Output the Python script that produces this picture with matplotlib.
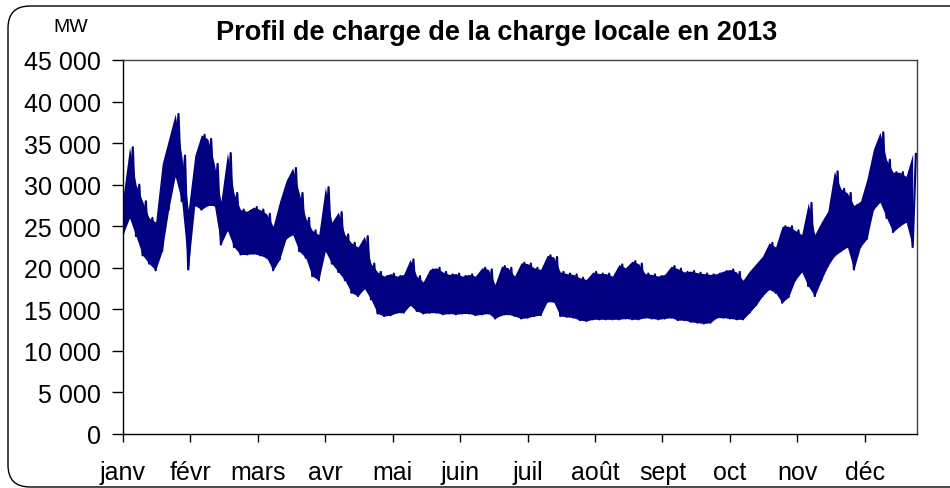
"""
Profil de charge 2013 - recreated load curve (envelope read every 3 days)
"""

import numpy as np
import matplotlib
matplotlib.use("Agg")
import matplotlib.pyplot as plt
from matplotlib.patches import FancyBboxPatch
from matplotlib.transforms import IdentityTransform
from matplotlib.ticker import FuncFormatter

plt.rcParams["font.family"] = ["Liberation Sans", "DejaVu Sans"]

# day of year for each reading (every 3 days)
days = list(range(0, 366, 3))

# daily minimum / maximum of the band, in MW
lows = [
    24000, 26000, 23800, 21500, 20500, 19700, 22000, 27000, 31000, 28000,
    19800, 27500, 27000, 27500, 27500, 22800, 24500, 22500, 21600, 21600,
    21700, 21500, 21200, 19700, 21000, 23500, 24000, 22000, 21200, 19000,
    18500, 22000, 20500, 19500, 18500, 17000, 16600, 17500, 16200, 14500,
    14200, 14300, 14600, 14600, 15500, 14800, 14500, 14600, 14600, 14400,
    14500, 14400, 14500, 14500, 14300, 14400, 14500, 13900, 14300, 14400,
    14200, 13900, 14000, 14200, 14300, 15900, 15900, 14200, 14100, 14000,
    13700, 13600, 13800, 13800, 13800, 13800, 13800, 13900, 13800, 13800,
    14000, 13900, 13800, 13900, 14000, 13700, 13700, 13500, 13400, 13300,
    13400, 14000, 14000, 13900, 13800, 13800, 14600, 15500, 16600, 17400,
    17000, 15800, 16500, 18500, 19500, 17800, 16600, 18500, 20200, 21400,
    22000, 22500, 19800, 22500, 23500, 27000, 27900, 26000, 24300, 25000,
    25500, 22500,
]
highs = [
    28500, 34500, 30000, 28000, 26000, 25500, 32500, 35500, 38500, 33500,
    27000, 33500, 36000, 35500, 32500, 28000, 33800, 29000, 27000, 26800,
    27300, 27000, 26500, 25000, 28000, 30500, 32000, 29000, 26000, 24500,
    24000, 29700, 25500, 26700, 24000, 23000, 22500, 23800, 20500, 19500,
    19000, 19300, 19000, 19200, 21000, 19000, 18300, 19800, 20000, 19500,
    19200, 19300, 19000, 19200, 19000, 20000, 19800, 18000, 20200, 20000,
    19000, 20600, 20500, 20000, 19800, 21500, 21300, 19500, 19300, 19200,
    18800, 18600, 19500, 19300, 19300, 19000, 20400, 20000, 20800, 20500,
    19300, 19200, 19000, 19200, 20200, 19900, 19500, 19600, 19400, 19300,
    19200, 19300, 19600, 19800, 19500, 18500, 19600, 20500, 21400, 23000,
    22500, 25000, 25000, 24500, 24000, 27800, 24000, 25500, 26800, 31600,
    29500, 29000, 27500, 28000, 30700, 34300, 36300, 33000, 31500, 31500,
    31000, 33700,
]

months = ["janv", "févr", "mars", "avr", "mai", "juin",
          "juil", "août", "sept", "oct", "nov", "déc"]

LINE = "#000080"


def zigzag(d, lo, hi):
    """low at day d, high half a step later -> up/down trace for the jagged edges"""
    xs, ys = [], []
    for x, a, b in zip(d, lo, hi):
        xs += [x, x + 1.5]
        ys += [a, b]
    return xs, ys


fig = plt.figure(figsize=(9.5, 4.89), dpi=100)

# rounded outer frame (pixel coordinates, right side runs off the image)
frame = FancyBboxPatch((8, 1), 975, 481, boxstyle="round,pad=0,rounding_size=22",
                       transform=IdentityTransform(), fill=False,
                       edgecolor="black", linewidth=1.0)
fig.patches.append(frame)

ax = fig.add_axes([123 / 950, 54 / 489, 794 / 950, 374 / 489])

ax.fill_between(days, lows, highs, color=LINE, linewidth=0)
zx, zy = zigzag(days, lows, highs)
ax.plot(zx, zy, color=LINE, linewidth=1.6)

ax.set_xlim(0, 365)
ax.set_ylim(0, 45000)
ax.set_yticks(np.arange(0, 45001, 5000))
ax.yaxis.set_major_formatter(FuncFormatter(lambda v, p: f"{v:,.0f}".replace(",", " ")))
ax.set_xticks([31 * i for i in range(12)])
ax.set_xticklabels(months)

ax.tick_params(axis="y", direction="out", length=8, width=1, pad=8, labelsize=18)
ax.tick_params(axis="x", direction="out", length=6, width=1, pad=13, labelsize=18)

for side in ("left", "bottom"):
    ax.spines[side].set_color("black")
    ax.spines[side].set_linewidth(1.0)
for side in ("top", "right"):
    ax.spines[side].set_color("#404040")
    ax.spines[side].set_linewidth(1.0)

fig.text(497 / 950, 1 - 40 / 489, "Profil de charge de la charge locale en 2013",
         ha="center", va="baseline", fontsize=19.5, fontweight="bold")
fig.text(71 / 950, 1 - 32 / 489, "MW", ha="center", va="baseline", fontsize=14)

fig.savefig("out.png", dpi=100)
